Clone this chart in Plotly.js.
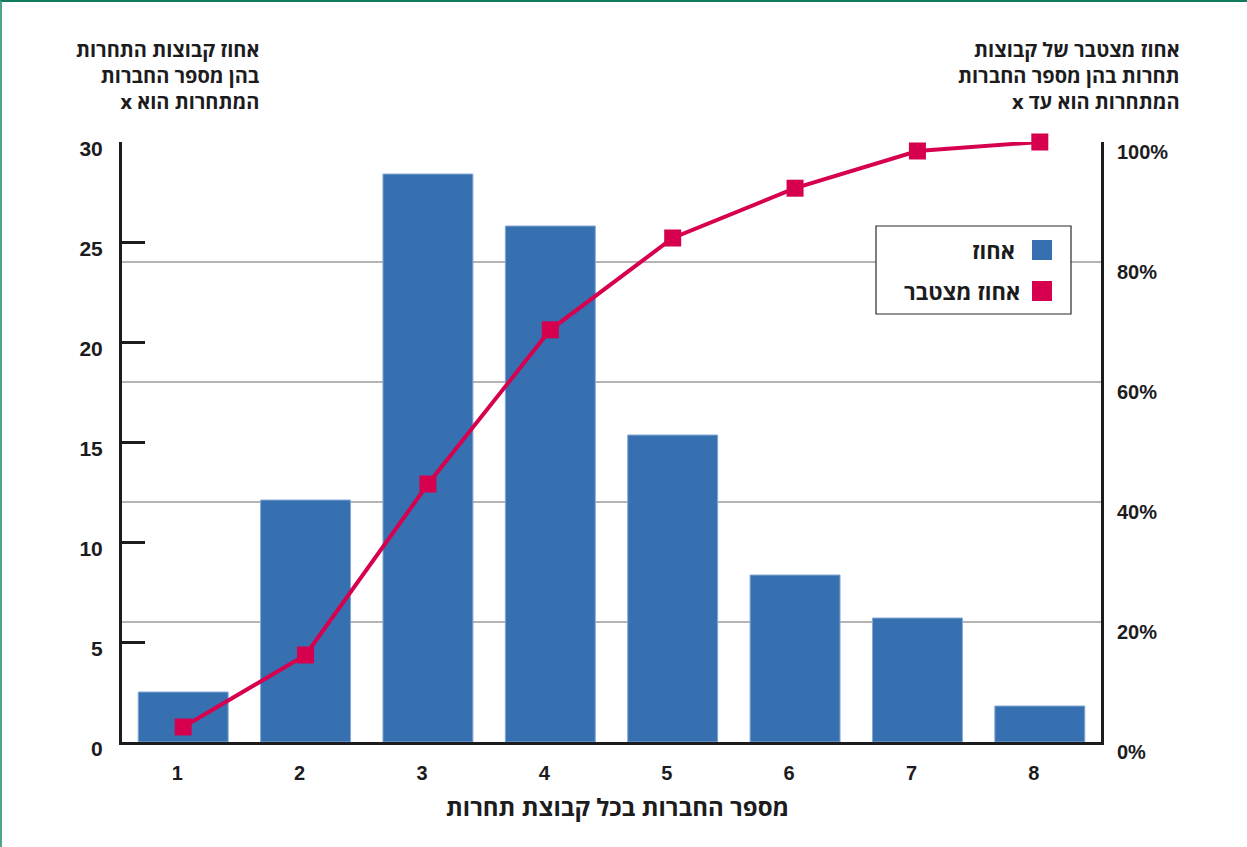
<!DOCTYPE html>
<html>
<head>
<meta charset="utf-8">
<script src="https://cdn.plot.ly/plotly-3.0.1.min.js"></script>
<style>
  html, body { margin: 0; padding: 0; background: #fff; }
  #frame {
    position: relative; width: 1247px; height: 847px; box-sizing: border-box;
    border-top: 2px solid #127a5d; border-left: 2px solid #4fa38a; overflow: hidden;
  }
  #chart { position: absolute; left: -2px; top: -2px; width: 1247px; height: 847px; }
</style>
</head>
<body>
<div id="frame"><div id="chart"></div></div>
<script>
// Number of firms per competition group
const firmCounts = [1, 2, 3, 4, 5, 6, 7, 8];
// Share of competition groups with exactly x firms (%)
const sharePct = [2.5, 12.1, 28.4, 25.8, 15.35, 8.35, 6.2, 1.8];
// Cumulative share of groups with up to x firms (%)
const cumulativePct = [2.5, 14.5, 43, 68.7, 84, 92.3, 98.5, 100];

const leftTicks = [0, 5, 10, 15, 20, 25, 30];
const rightTicks = [0, 20, 40, 60, 80, 100];

const seriesNames = ['אחוז', 'אחוז מצטבר'];
const leftTitleLines = ['אחוז קבוצות התחרות', 'בהן מספר החברות', 'המתחרות הוא x'];
const rightTitleLines = ['אחוז מצטבר של קבוצות', 'תחרות בהן מספר החברות', 'המתחרות הוא עד x'];
const xTitle = 'מספר החברות בכל קבוצת תחרות';

// wrap each line in a right-to-left embedding so trailing Latin letters sit on the left
const rtl = s => '\u202B' + s + '\u202C';
const bold = s => '<b>' + s + '</b>';
const rtlBlock = lines => lines.map(l => bold(rtl(l))).join('<br>');

const BLUE = '#3670b1';
const RED = '#d6004f';
const INK = '#1c1c1e';
const FONT = '"Liberation Sans", Arial, "DejaVu Sans", sans-serif';
const HEB = '"Open Sans", "DejaVu Sans", "Liberation Sans", sans-serif';
const tickFont = { family: FONT, size: 20, color: INK, weight: 'bold' };

const traces = [
  {
    type: 'bar', x: firmCounts, y: sharePct, name: seriesNames[0],
    marker: { color: BLUE, line: { color: '#86a9d4', width: 1 } },
    yaxis: 'y', hoverinfo: 'x+y'
  },
  {
    type: 'scatter', mode: 'lines+markers', x: firmCounts, y: cumulativePct, name: seriesNames[1],
    line: { color: RED, width: 4 },
    marker: { symbol: 'square', size: 17, color: RED },
    cliponaxis: false,
    yaxis: 'y2', hoverinfo: 'x+y'
  }
];

const layout = {
  width: 1247, height: 847,
  margin: { l: 122, r: 146, t: 142, b: 105 },
  paper_bgcolor: '#ffffff', plot_bgcolor: '#ffffff',
  showlegend: false,
  bargap: 0.265,
  font: { family: FONT, color: INK },
  xaxis: {
    range: [0.5, 8.5], tickvals: firmCounts, ticktext: firmCounts.map(v => bold(String(v))),
    showgrid: false, zeroline: false, showline: true, linecolor: INK, linewidth: 3,
    ticks: '', tickfont: tickFont, ticklabelstandoff: 11, ticklabelshift: -6,
    fixedrange: true
  },
  yaxis: {
    range: [0, 30], tickvals: leftTicks, ticktext: leftTicks.map(v => bold(String(v))),
    showgrid: false, zeroline: false, showline: true, linecolor: INK, linewidth: 3,
    ticks: 'inside', ticklen: 23, tickwidth: 3, tickcolor: INK,
    tickfont: { family: FONT, size: 21, color: INK, weight: 'bold' },
    ticklabelstandoff: 12, ticklabelshift: 7,
    fixedrange: true
  },
  yaxis2: {
    range: [0, 100], overlaying: 'y', side: 'right',
    tickvals: rightTicks, ticktext: rightTicks.map(v => bold(v + '%')),
    showgrid: true, gridcolor: '#b4b4b4', gridwidth: 1.5,
    zeroline: false, showline: true, linecolor: INK, linewidth: 3,
    ticks: '', tickfont: tickFont, ticklabelstandoff: 9, ticklabelshift: 10,
    fixedrange: true
  },
  shapes: [
    // legend box and swatches
    { type: 'rect', xref: 'paper', yref: 'paper',
      x0: (876 - 122) / 979, x1: (1071 - 122) / 979,
      y0: (742 - 314) / 600, y1: (742 - 226) / 600,
      fillcolor: '#ffffff', line: { color: '#2a2a2a', width: 1.2 }, layer: 'above' },
    { type: 'rect', xref: 'paper', yref: 'paper',
      x0: (1032 - 122) / 979, x1: (1052 - 122) / 979,
      y0: (742 - 260) / 600, y1: (742 - 240) / 600,
      fillcolor: BLUE, line: { width: 0 }, layer: 'above' },
    { type: 'rect', xref: 'paper', yref: 'paper',
      x0: (1032 - 122) / 979, x1: (1052 - 122) / 979,
      y0: (742 - 301) / 600, y1: (742 - 281) / 600,
      fillcolor: RED, line: { width: 0 }, layer: 'above' }
  ],
  annotations: [
    { text: rtlBlock(leftTitleLines), xref: 'paper', yref: 'paper', x: (262 - 122) / 979, y: (742 - 34) / 600,
      xanchor: 'right', yanchor: 'top', align: 'right', showarrow: false,
      font: { family: HEB, size: 20, color: INK, weight: 'bold' } },
    { text: rtlBlock(rightTitleLines), xref: 'paper', yref: 'paper', x: (1182 - 122) / 979, y: (742 - 34) / 600,
      xanchor: 'right', yanchor: 'top', align: 'right', showarrow: false,
      font: { family: HEB, size: 20, color: INK, weight: 'bold' } },
    { text: bold(rtl(xTitle)), xref: 'paper', yref: 'paper', x: (617 - 122) / 979, y: (742 - 806) / 600,
      xanchor: 'center', yanchor: 'middle', showarrow: false,
      font: { family: HEB, size: 24, color: INK, weight: 'bold' } },
    { text: bold(rtl(seriesNames[0])), xref: 'paper', yref: 'paper', x: (1017 - 122) / 979, y: (742 - 250) / 600,
      xanchor: 'right', yanchor: 'middle', showarrow: false,
      font: { family: HEB, size: 22, color: INK, weight: 'bold' } },
    { text: bold(rtl(seriesNames[1])), xref: 'paper', yref: 'paper', x: (1022 - 122) / 979, y: (742 - 291) / 600,
      xanchor: 'right', yanchor: 'middle', showarrow: false,
      font: { family: HEB, size: 22, color: INK, weight: 'bold' } }
  ]
};

Plotly.newPlot('chart', traces, layout, { displayModeBar: false, staticPlot: true });
</script>
</body>
</html>
